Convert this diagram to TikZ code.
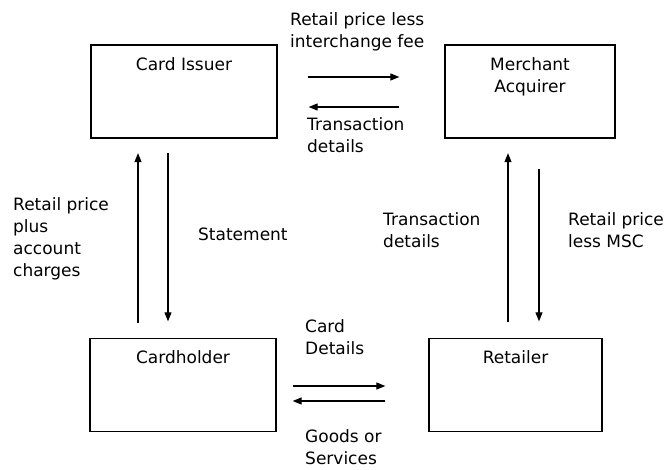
\documentclass[tikz,border=0pt]{standalone}
\usepackage{fontspec}
\setmainfont{DejaVu Sans}
\usetikzlibrary{arrows.meta}

\begin{document}
\begin{tikzpicture}[x=1pt, y=-1pt, font=\fontsize{17}{22}\selectfont,
    party/.style={draw, line width=1.3pt, minimum width=#1, minimum height=93pt},
    title/.style={anchor=north, yshift=-13pt, inner sep=0pt, align=center},
    flow/.style={-{Triangle[length=9pt,width=7pt]}, line width=1.1pt},
    note/.style={anchor=north west, inner sep=0pt, align=left}]
    \useasboundingbox (0,0) rectangle (666,469);
    % the four parties
    \node[party=186pt, label={[title]north:Card Issuer}] (issuer) at (184,91.5) {};
    \node[party=170pt, label={[title]north:Merchant\\Acquirer}] (acquirer) at (530,91.5) {};
    \node[party=186pt, label={[title]north:Cardholder}] (holder) at (183,385) {};
    \node[party=173pt, label={[title]north:Retailer}] (retailer) at (515.5,385) {};
    % issuer and acquirer
    \draw[flow, shorten <=30pt, shorten >=45pt] ([yshift=14.5pt]issuer.east) -- ([yshift=14.5pt]acquirer.west);
    \draw[flow, shorten <=45pt, shorten >=31pt] ([yshift=-15.5pt]acquirer.west) -- ([yshift=-15.5pt]issuer.east);
    \node[note] (lessfee) at (290,12) {Retail price less\\interchange fee};
    \node[note] (txtop) at (307,117) {Transaction\\details};
    % issuer and cardholder
    \draw[flow, shorten <=15pt, shorten >=14.5pt] ([xshift=-45pt]holder.north) -- ([xshift=-46pt]issuer.south);
    \draw[flow, shorten <=14.5pt, shorten >=16.5pt] ([xshift=-16pt]issuer.south) -- ([xshift=-15pt]holder.north);
    \node[note] (plus) at (13,197) {Retail price\\plus\\account\\charges};
    \node[note] (statement) at (198,228) {Statement};
    % acquirer and retailer
    \draw[flow, shorten <=15.5pt, shorten >=14.5pt] ([xshift=-7.5pt]retailer.north) -- ([xshift=-22pt]acquirer.south);
    \draw[flow, shorten <=30.5pt, shorten >=16.5pt] ([xshift=9pt]acquirer.south) -- ([xshift=23.5pt]retailer.north);
    \node[note] (txright) at (383,212) {Transaction\\details};
    \node[note] (lessmsc) at (568,212) {Retail price\\less MSC};
    % cardholder and retailer
    \draw[flow, shorten <=16pt, shorten >=43pt] ([yshift=-1pt]holder.east) -- ([yshift=-1pt]retailer.west);
    \draw[flow, shorten <=43pt, shorten >=16pt] ([yshift=-16pt]retailer.west) -- ([yshift=-16pt]holder.east);
    \node[note] (carddet) at (305,319) {Card\\Details};
    \node[note] (goods) at (305,429) {Goods or\\Services};
\end{tikzpicture}
\end{document}
